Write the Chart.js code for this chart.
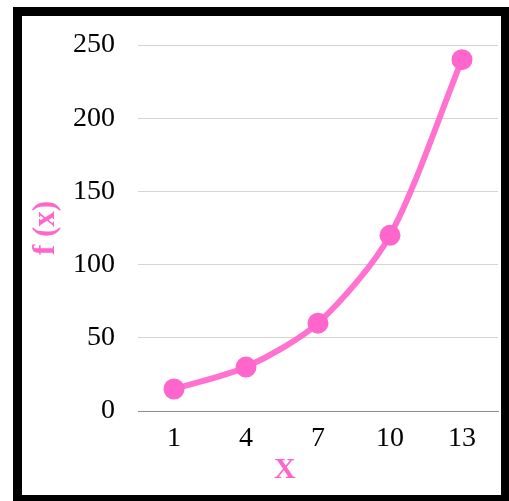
<!DOCTYPE html>
<html>
<head>
<meta charset="utf-8">
<script src="https://cdn.jsdelivr.net/npm/chart.js@4"></script>
<style>
  html, body { margin: 0; padding: 0; background: #fff; overflow: hidden; width: 509px; height: 501px; }
  #frame { position: absolute; left: 13px; top: 7px; width: 479px; height: 479px; border: 9px solid #000; background: #fff; }
  #frame canvas { display: block; }
</style>
</head>
<body>
<div id="frame"><canvas id="chart" width="479" height="479"></canvas></div>
<script>
const xValues = ['1', '4', '7', '10', '13'];
const fValues = [15, 30, 60, 120, 240];
const yTicks = [0, 50, 100, 150, 200, 250];
const xTitle = 'X';
const yTitle = 'f (x)';

const pink = '#FF66CC';
const serif = '"Liberation Serif", "Times New Roman", serif';

// draws the horizontal axis title a little left of the axis centre
const xTitlePlugin = {
  id: 'xTitle',
  afterDraw(chart) {
    const { ctx, chartArea } = chart;
    ctx.save();
    ctx.font = 'bold 30px ' + serif;
    ctx.fillStyle = pink;
    ctx.textAlign = 'center';
    ctx.textBaseline = 'alphabetic';
    const x = chartArea.left + (chartArea.right - chartArea.left) * 0.408;
    ctx.fillText(xTitle, x, chartArea.bottom + 67);
    ctx.restore();
  }
};

// keep the plot area fixed by the layout padding only
function noScalePadding(scale) {
  scale.paddingTop = 0;
  scale.paddingBottom = 0;
  scale.paddingLeft = 0;
  scale.paddingRight = 0;
}

new Chart(document.getElementById('chart'), {
  type: 'line',
  data: {
    labels: xValues,
    datasets: [{
      data: fValues,
      borderColor: 'rgba(255,102,204,0.92)',
      borderWidth: 6,
      tension: 0.28,
      pointRadius: 10.5,
      pointHoverRadius: 10.5,
      pointBackgroundColor: pink,
      pointBorderWidth: 0,
      fill: false
    }]
  },
  options: {
    responsive: false,
    animation: false,
    events: [],
    layout: { autoPadding: false, padding: { left: 0, right: 3, top: 29, bottom: 0 } },
    plugins: { legend: { display: false }, tooltip: { enabled: false } },
    scales: {
      x: {
        type: 'category',
        offset: true,
        grid: { display: false },
        border: { display: true, color: '#8c8c8c', width: 1 },
        ticks: { color: '#000', font: { family: serif, size: 28 }, padding: 3, maxRotation: 0 },
        afterFit(scale) { scale.height = 84; noScalePadding(scale); }
      },
      y: {
        min: 0,
        max: 250,
        afterBuildTicks(scale) { scale.ticks = yTicks.map(v => ({ value: v })); },
        grid: { color: '#d4d4d4', lineWidth: 1, drawTicks: false },
        border: { display: false },
        ticks: { color: '#000', font: { family: serif, size: 28 }, padding: 23 },
        title: {
          display: true,
          text: yTitle,
          color: pink,
          font: { family: serif, size: 31, weight: 'bold' },
          padding: { top: 5, bottom: 0 }
        },
        afterFit(scale) { scale.width = 116; noScalePadding(scale); }
      }
    }
  },
  plugins: [xTitlePlugin]
});
</script>
</body>
</html>
